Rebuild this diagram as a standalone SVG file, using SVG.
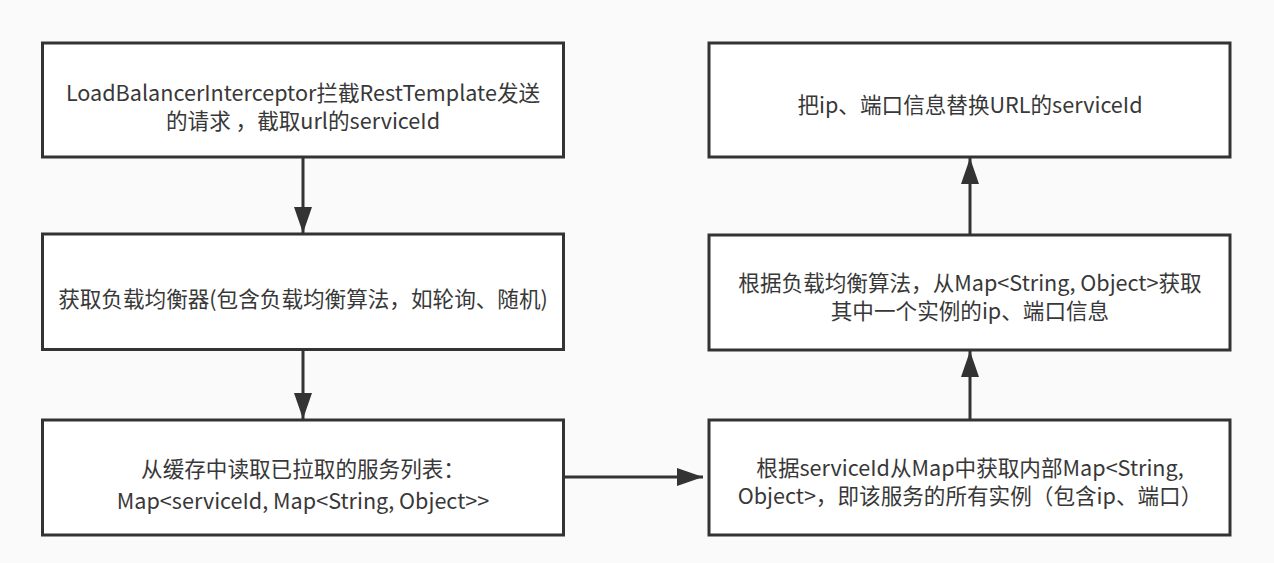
<svg xmlns="http://www.w3.org/2000/svg" width="1274" height="563" viewBox="0 0 1274 563">
<style>
.box{fill:#ffffff;stroke:#333333;stroke-width:3}
.t{font-family:"Noto Sans CJK SC","Microsoft YaHei",sans-serif;font-size:21.6px;fill:#383838;text-anchor:middle;dominant-baseline:central}
.c{fill:none;stroke:#333333;stroke-width:3}
</style>
<defs>
<marker id="ah" markerUnits="userSpaceOnUse" markerWidth="27" markerHeight="19" refX="26" refY="9" orient="auto" viewBox="0 0 27 19">
<path d="M0,0 L26,9 L0,18 Z" fill="#333333"/>
</marker>
</defs>
<rect x="0" y="0" width="1274" height="563" fill="#fafafa"/>
<g id="connectors">
<line class="c" x1="303" y1="158" x2="303" y2="233" marker-end="url(#ah)"/>
<line class="c" x1="303" y1="350" x2="303" y2="419" marker-end="url(#ah)"/>
<line class="c" x1="564" y1="477" x2="703" y2="477" marker-end="url(#ah)"/>
<line class="c" x1="970" y1="419" x2="970" y2="351" marker-end="url(#ah)"/>
<line class="c" x1="970" y1="234" x2="970" y2="158" marker-end="url(#ah)"/>
</g>
<g id="n1">
<rect class="box" x="42.5" y="43" width="521" height="114"/>
<text class="t" x="303" y="91">LoadBalancerInterceptor拦截RestTemplate发送</text>
<text class="t" x="303" y="119">的请求 ，截取url的serviceId</text>
</g>
<g id="n2">
<rect class="box" x="42.5" y="234" width="521" height="115.5"/>
<text class="t" x="303" y="297">获取负载均衡器(包含负载均衡算法，如轮询、随机)</text>
</g>
<g id="n3">
<rect class="box" x="42.5" y="420" width="521" height="115"/>
<text class="t" x="303" y="467">从缓存中读取已拉取的服务列表：</text>
<text class="t" x="303" y="499">Map&lt;serviceId, Map&lt;String, Object&gt;&gt;</text>
</g>
<g id="n4">
<rect class="box" x="709" y="420" width="521" height="115"/>
<text class="t" x="970" y="466">根据serviceId从Map中获取内部Map&lt;String,</text>
<text class="t" x="970" y="494">Object&gt;，即该服务的所有实例（包含ip、端口）</text>
</g>
<g id="n5">
<rect class="box" x="709" y="235" width="521" height="115"/>
<text class="t" x="970" y="281">根据负载均衡算法，从Map&lt;String, Object&gt;获取</text>
<text class="t" x="970" y="309">其中一个实例的ip、端口信息</text>
</g>
<g id="n6">
<rect class="box" x="709" y="43" width="521" height="114"/>
<text class="t" x="970" y="103">把ip、端口信息替换URL的serviceId</text>
</g>
</svg>
